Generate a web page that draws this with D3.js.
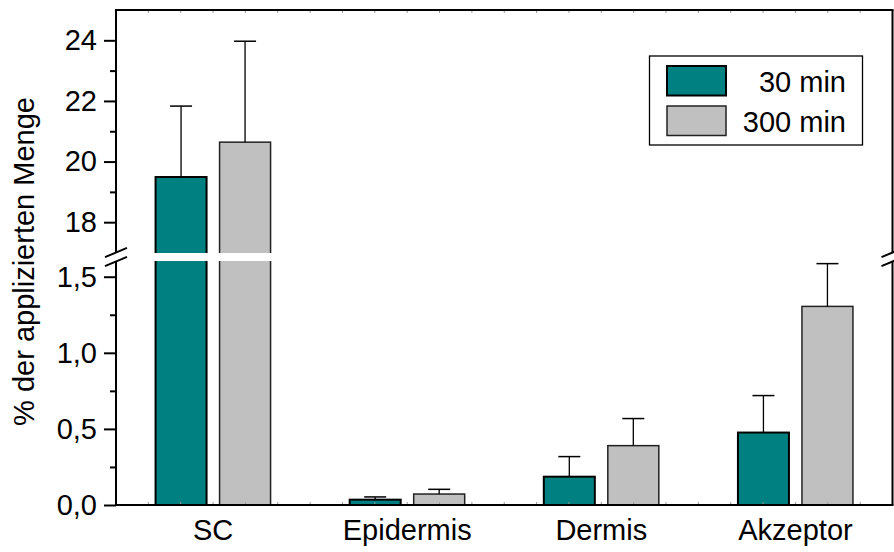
<!DOCTYPE html>
<html><head><meta charset="utf-8">
<script src="https://cdn.jsdelivr.net/npm/d3@7"></script>
<style>
html,body{margin:0;padding:0;background:#fff;}
svg{display:block;font-family:Arial,"Liberation Sans",sans-serif;}
</style></head>
<body>
<svg id="chart" width="894" height="552"></svg>
<script>
const categories = ["SC","Epidermis","Dermis","Akzeptor"];
const seriesNames = ["30 min","300 min"];
const mean30  = [19.49, 0.035, 0.186, 0.476];
const err30   = [2.34, 0.018, 0.132, 0.243];
const mean300 = [20.64, 0.072, 0.39, 1.305];
const err300  = [3.33, 0.031, 0.178, 0.281];
const upperTicks = [18, 20, 22, 24];
const upperMinor = [19, 21, 23];
const lowerTicks = [0, 0.5, 1.0, 1.5];
const lowerMinor = [0.25, 0.75, 1.25];
const colors = ["#008080", "#c0c0c0"];
const strokes = ["#000", "#222"];

const svg = d3.select("#chart");
const L = 116, R = 892.5, T = 10, B = 505;
const FS = 29;

const x = d3.scaleBand().domain(categories).range([L, R]).paddingInner(0).paddingOuter(0);
const xs = d3.scaleBand().domain(seriesNames).range([-57.5, 57.5]).paddingInner(13/64).paddingOuter(0);
const yUp = d3.scaleLinear().domain([17, 25]).range([252.5, T]);
const yLo = d3.scaleLinear().domain([0, 1.6]).range([B, 261.5]);
const loMax = yLo.domain()[1], upMin = yUp.domain()[0];

const data = [];
categories.forEach((c, i) => {
  data.push({c, s: seriesNames[0], v: mean30[i], e: err30[i], k: 0});
  data.push({c, s: seriesNames[1], v: mean300[i], e: err300[i], k: 1});
});

const cx = d => x(d.c) + x.bandwidth()/2 + xs(d.s);
const bw = xs.bandwidth();

// bars
const g = svg.append("g");
data.forEach(d => {
  const x0 = cx(d);
  const sw = d.k ? 1.5 : 2;
  if (d.v <= loMax) {
    g.append("rect").attr("x", x0).attr("width", bw)
      .attr("y", yLo(d.v)).attr("height", yLo(0) - yLo(d.v))
      .attr("fill", colors[d.k]).attr("stroke", strokes[d.k]).attr("stroke-width", sw);
  } else {
    g.append("rect").attr("x", x0).attr("width", bw)
      .attr("y", yLo(loMax) - 6).attr("height", yLo(0) - yLo(loMax) + 6)
      .attr("fill", colors[d.k]).attr("stroke", strokes[d.k]).attr("stroke-width", sw);
    g.append("rect").attr("x", x0).attr("width", bw)
      .attr("y", yUp(d.v)).attr("height", yUp(upMin) - yUp(d.v) + 6)
      .attr("fill", colors[d.k]).attr("stroke", strokes[d.k]).attr("stroke-width", sw);
  }
});

// error bars
data.forEach(d => {
  const xm = cx(d) + bw/2;
  const top = d.v + d.e;
  const sc = d.v > loMax ? yUp : yLo;
  g.append("line").attr("x1", xm).attr("x2", xm).attr("y1", sc(d.v)).attr("y2", sc(top))
    .attr("stroke", "#000").attr("stroke-width", 1.3);
  g.append("line").attr("x1", xm - 11).attr("x2", xm + 11).attr("y1", sc(top)).attr("y2", sc(top))
    .attr("stroke", "#000").attr("stroke-width", 1.5);
});

// faint minor ticks on top/bottom
const nMinor = 24;
const minorX = d3.range(1, nMinor).map(k => L + k * (R - L) / nMinor);
minorX.forEach(mx => {
  svg.append("line").attr("x1", mx).attr("x2", mx).attr("y1", B - 3).attr("y2", B + 1)
    .attr("stroke", "#999").attr("stroke-width", 1);
  svg.append("line").attr("x1", mx).attr("x2", mx).attr("y1", T - 1).attr("y2", T + 3)
    .attr("stroke", "#999").attr("stroke-width", 1);
});

// frame
const ax = svg.append("g").attr("stroke", "#000").attr("stroke-width", 2);
ax.append("line").attr("x1", L - 1).attr("x2", R + 1).attr("y1", T).attr("y2", T);
ax.append("line").attr("x1", L - 1).attr("x2", R + 1).attr("y1", B).attr("y2", B);
ax.append("line").attr("x1", L).attr("x2", L).attr("y1", T).attr("y2", B);
ax.append("line").attr("x1", R).attr("x2", R).attr("y1", T).attr("y2", B);

// y axes via d3
const fmtLo = v => d3.format(".1f")(v).replace(".", ",");
const upAxis = d3.axisLeft(yUp).tickValues(upperTicks).tickSize(12).tickPadding(7).tickFormat(d3.format("d"));
const upMinorAxis = d3.axisLeft(yUp).tickValues(upperMinor).tickSize(6).tickFormat("");
const loAxis = d3.axisLeft(yLo).tickValues(lowerTicks).tickSize(12).tickPadding(7).tickFormat(fmtLo);
const loMinorAxis = d3.axisLeft(yLo).tickValues(lowerMinor).tickSize(6).tickFormat("");

[upAxis, upMinorAxis, loAxis, loMinorAxis].forEach(a => {
  const ag = svg.append("g").attr("transform", `translate(${L},0)`).call(a);
  ag.select(".domain").remove();
  ag.selectAll(".tick line").attr("stroke", "#000").attr("stroke-width", 2);
  ag.selectAll(".tick text").attr("font-size", FS).attr("fill", "#000")
    .attr("font-family", "Arial, 'Liberation Sans', sans-serif");
});

// white break band
svg.append("rect").attr("x", L - 3).attr("width", R - L + 6)
  .attr("y", yUp(upMin) + 0.5).attr("height", yLo(loMax) - yUp(upMin) - 1)
  .attr("fill", "#fff");

// break slashes
const breakYs = [yUp(upMin), yLo(loMax)];
[L, R].forEach(bx => {
  breakYs.forEach(by => {
    svg.append("line").attr("x1", bx - 11).attr("y1", by + 4.7).attr("x2", bx + 11).attr("y2", by - 4.7)
      .attr("stroke", "#000").attr("stroke-width", 2);
  });
});

// x labels
const xAxis = d3.axisBottom(x).tickSize(0).tickPadding(0);
const xg = svg.append("g").attr("transform", `translate(0,${B})`).call(xAxis);
xg.select(".domain").remove();
xg.selectAll(".tick text").attr("font-size", FS).attr("fill", "#000").attr("dy", null).attr("y", 35)
  .attr("font-family", "Arial, 'Liberation Sans', sans-serif");

// y title
svg.append("text").attr("transform", `translate(34,${(90+433)/2}) rotate(-90)`)
  .attr("text-anchor", "middle").attr("font-size", FS).attr("fill", "#000")
  .text("% der applizierten Menge");

// legend
const lg = svg.append("g");
lg.append("rect").attr("x", 649.5).attr("y", 56).attr("width", 213).attr("height", 89)
  .attr("fill", "#fff").attr("stroke", "#000").attr("stroke-width", 1.3);
seriesNames.forEach((s, k) => {
  const yy = 66 + k * 40;
  lg.append("rect").attr("x", 667).attr("y", yy).attr("width", 59).attr("height", 29.5)
    .attr("fill", colors[k]).attr("stroke", strokes[k]).attr("stroke-width", k ? 1.5 : 2);
  lg.append("text").attr("x", 846).attr("y", yy + 25.5).attr("text-anchor", "end")
    .attr("font-size", FS).attr("fill", "#000").text(s);
});
</script>
</body></html>
